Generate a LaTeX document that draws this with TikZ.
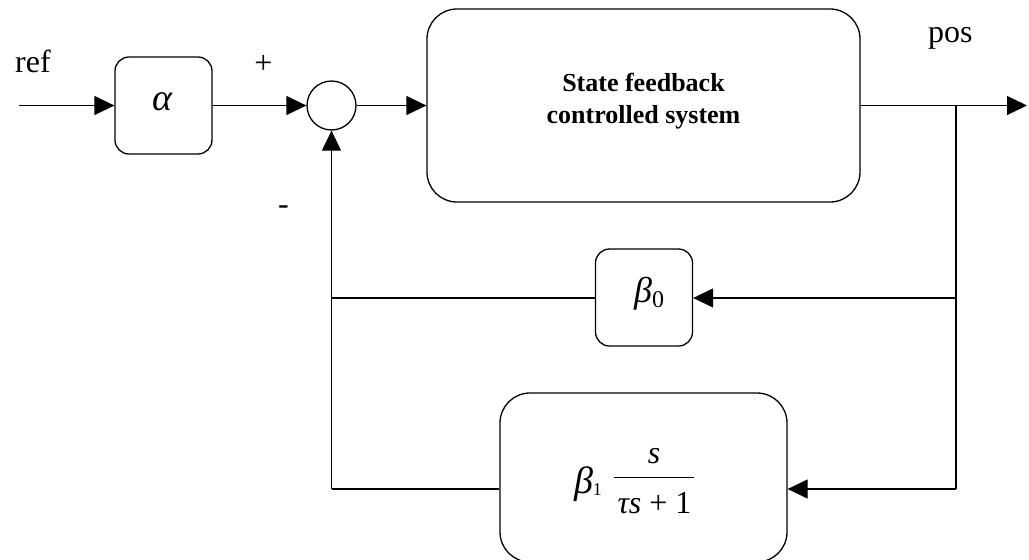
\documentclass[tikz,border=0pt]{standalone}
\usepackage{fontspec}
\setmainfont{Liberation Serif}
\usetikzlibrary{arrows.meta}
\begin{document}
\begin{tikzpicture}[x=1pt,y=-1pt,
  blk/.style={draw, line width=1.3pt, rounded corners=14pt, minimum width=97pt, minimum height=97pt, inner sep=0pt},
  bigblk/.style={draw, line width=1.3pt, inner sep=0pt},
  wire/.style={line width=1.3pt},
  arr/.style={line width=1.3pt, -{Triangle[length=20pt,width=19pt]}},
  lbl/.style={font=\fontsize{32}{36}\selectfont, inner sep=0pt},
  mth/.style={font=\fontsize{38}{44}\selectfont\itshape, inner sep=0pt}]
\useasboundingbox (0,0) rectangle (1029,560);

% blocks
\node[blk] (alpha) at (163.5,105.5) {};
\node[mth] (alphatxt) at (162.5,101.5) {α};
\node[draw, circle, line width=1.3pt, minimum size=49pt, inner sep=0pt] (sum) at (331.5,105.5) {};
\node[bigblk, rounded corners=30pt, minimum width=433pt, minimum height=193pt] (sys) at (643.5,105.5) {};
\node[inner sep=0pt, align=center, font=\fontsize{26}{32}\selectfont\bfseries] (systxt) at (643.5,101) {State feedback\\controlled system};
\node[blk] (b0) at (644,297.5) {};
\node[mth, font=\fontsize{36}{42}\selectfont, anchor=base west] (b0txt) at (634,302) {\textit{β}\raisebox{-5pt}{\fontsize{24}{28}\selectfont 0}};
\node[bigblk, rounded corners=30pt, minimum width=287pt, minimum height=169pt] (b1) at (643.5,477.5) {};
\node[mth, anchor=base] (b1g) at (588,493) {β\raisebox{-2pt}{\fontsize{18}{20}\selectfont\upshape 1}};
\node[inner sep=0pt, anchor=base, font=\fontsize{32}{38}\selectfont] (frac) at (654,463)
  {\setlength{\arrayrulewidth}{1.3pt}\begin{tabular}[t]{@{}c@{}}\itshape s\\[2.6pt]\hline
   \rule{0pt}{35pt}\kern4pt\itshape τs\upshape\ + 1\kern3pt\end{tabular}};

% labels
\node[lbl, anchor=base west] (ref) at (15,72) {ref};
\node[lbl] (plus) at (263.5,64) {+};
\node[lbl] (minus) at (283.5,210) {-};
\node[lbl, anchor=base west] (pos) at (928,42) {pos};

% coordinates
\coordinate (in) at (19,105.5);
\coordinate (out) at (1027,105.5);
\coordinate (split) at (956,105.5);
\coordinate (s1) at (956,298);
\coordinate (s2) at (956,489);
\coordinate (fbL) at (331.5,489);

% connectors
\draw[arr] (in) -- (alpha.west);
\draw[arr] (alpha.east) -- (sum.west);
\draw[arr] (sum.east) -- (sys.west);
\draw[arr] (sys.east) -- (out);
\draw[wire] (split) -- (s2);
\draw[arr] (s1) -- (s1 -| b0.east);
\draw[arr] (s2) -- (s2 -| b1.east);
\draw[wire] (s2 -| b1.west) -- (fbL);
\draw[arr] (fbL) -- (sum.south);
\draw[wire] (s1 -| b0.west) -- (s1 -| fbL);
\end{tikzpicture}
\end{document}
